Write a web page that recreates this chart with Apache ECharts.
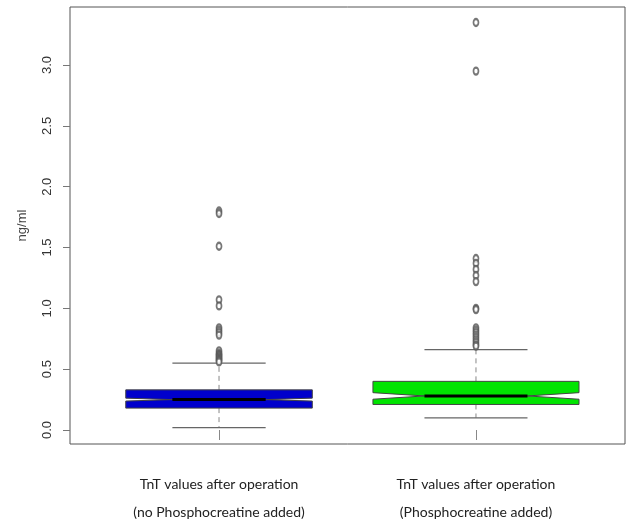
<!DOCTYPE html>
<html><head><meta charset="utf-8">
<script src="https://cdn.jsdelivr.net/npm/echarts@6/dist/echarts.min.js"></script>
<style>html,body{margin:0;padding:0;background:#fff}#c{width:626px;height:521px}</style>
</head><body><div id="c"></div>
<script>
// ---- data ----
const categories = ['TnT values after operation\n(no Phosphocreatine added)', 'TnT values after operation\n(Phosphocreatine added)'];
const positions = [1, 2];
const whiskerLow = [0.02, 0.10];
const q1 = [0.18, 0.21];
const median = [0.25, 0.28];
const q3 = [0.33, 0.40];
const whiskerHigh = [0.55, 0.66];
const notchHalf = [0.012, 0.027];
const outliersNoPC = [1.80, 1.78, 1.51, 1.07, 1.02, 0.84, 0.82, 0.80, 0.78, 0.65, 0.63, 0.62, 0.61, 0.60, 0.59, 0.58, 0.57, 0.56];
const outliersPC = [3.35, 2.95, 1.41, 1.37, 1.32, 1.27, 1.22, 1.00, 0.99, 0.84, 0.82, 0.80, 0.78, 0.76, 0.74, 0.72, 0.70, 0.69];
const yTicks = [0, 0.5, 1.0, 1.5, 2.0, 2.5, 3.0];

// ---- styles ----
const boxHalfWidth = [0.363, 0.401];
const fills = ['#0000CC', '#00E400'];

const boxData = positions.map((p, i) => [p, whiskerLow[i], q1[i], median[i], q3[i], whiskerHigh[i], notchHalf[i], i]);
const outlierData = [];
outliersNoPC.forEach(v => outlierData.push([positions[0], v]));
outliersPC.forEach(v => outlierData.push([positions[1], v]));

function renderBox(params, api) {
  const x = api.value(0), wl = api.value(1), lo = api.value(2), md = api.value(3), hi = api.value(4), wh = api.value(5), nh = api.value(6), idx = api.value(7);
  const hw = boxHalfWidth[idx];
  const c = (a, b) => api.coord([a, b]);
  const pts = [
    c(x - hw, lo), c(x - hw, md - nh), c(x - hw / 2, md), c(x - hw, md + nh), c(x - hw, hi),
    c(x + hw, hi), c(x + hw, md + nh), c(x + hw / 2, md), c(x + hw, md - nh), c(x + hw, lo)
  ];
  const line = (p1, p2, style) => ({ type: 'line', shape: { x1: p1[0], y1: p1[1], x2: p2[0], y2: p2[1] }, style: style });
  const dashed = { stroke: '#888', lineWidth: 1, lineDash: [5, 4] };
  const cap = { stroke: '#666', lineWidth: 1.2 };
  return {
    type: 'group',
    children: [
      line(c(x, hi), c(x, wh), dashed),
      line(c(x, lo), c(x, wl), dashed),
      line(c(x - hw / 2, wh), c(x + hw / 2, wh), cap),
      line(c(x - hw / 2, wl), c(x + hw / 2, wl), cap),
      { type: 'polygon', shape: { points: pts }, style: { fill: fills[idx], stroke: '#444', lineWidth: 1 } },
      line(c(x - hw / 2, md), c(x + hw / 2, md), { stroke: '#000', lineWidth: 3 })
    ]
  };
}

const chart = echarts.init(document.getElementById('c'), null, { renderer: 'canvas' });
chart.setOption({
  animation: false,
  backgroundColor: '#fff',
  grid: { left: 70, top: 7, width: 555, height: 437, show: true, borderColor: '#555', borderWidth: 1, outerBoundsMode: 'none', containLabel: false },
  xAxis: {
    type: 'value', min: 0.42, max: 2.58,
    splitLine: { show: false },
    axisLine: { show: false },
    axisTick: { show: true, length: 10, lineStyle: { color: '#888' }, customValues: positions },
    axisLabel: {
      customValues: positions,
      formatter: v => categories[positions.indexOf(v)] || '',
      margin: 26, fontFamily: 'Lato, sans-serif', fontSize: 14, lineHeight: 28, color: '#222'
    }
  },
  yAxis: {
    type: 'value', min: -0.115, max: 3.477,
    name: 'ng/ml', nameLocation: 'middle', nameGap: 41, nameRotate: 90,
    nameTextStyle: { fontFamily: 'Liberation Sans, Arial, sans-serif', fontSize: 13, color: '#444' },
    splitLine: { show: false },
    axisLine: { show: false },
    axisTick: { show: true, length: 7, lineStyle: { color: '#777' }, customValues: yTicks },
    axisLabel: {
      customValues: yTicks, rotate: 90, margin: 16,
      formatter: v => v.toFixed(1),
      fontFamily: 'Liberation Sans, Arial, sans-serif', fontSize: 13, color: '#333'
    }
  },
  series: [
    { type: 'custom', renderItem: renderBox, data: boxData, encode: { x: 0, y: [1, 5] }, z: 2 },
    { type: 'scatter', data: outlierData, symbol: 'emptyCircle', symbolSize: [5, 7],
      itemStyle: { color: '#555', borderColor: '#555', borderWidth: 0.8 }, z: 3 }
  ]
});
</script></body></html>
